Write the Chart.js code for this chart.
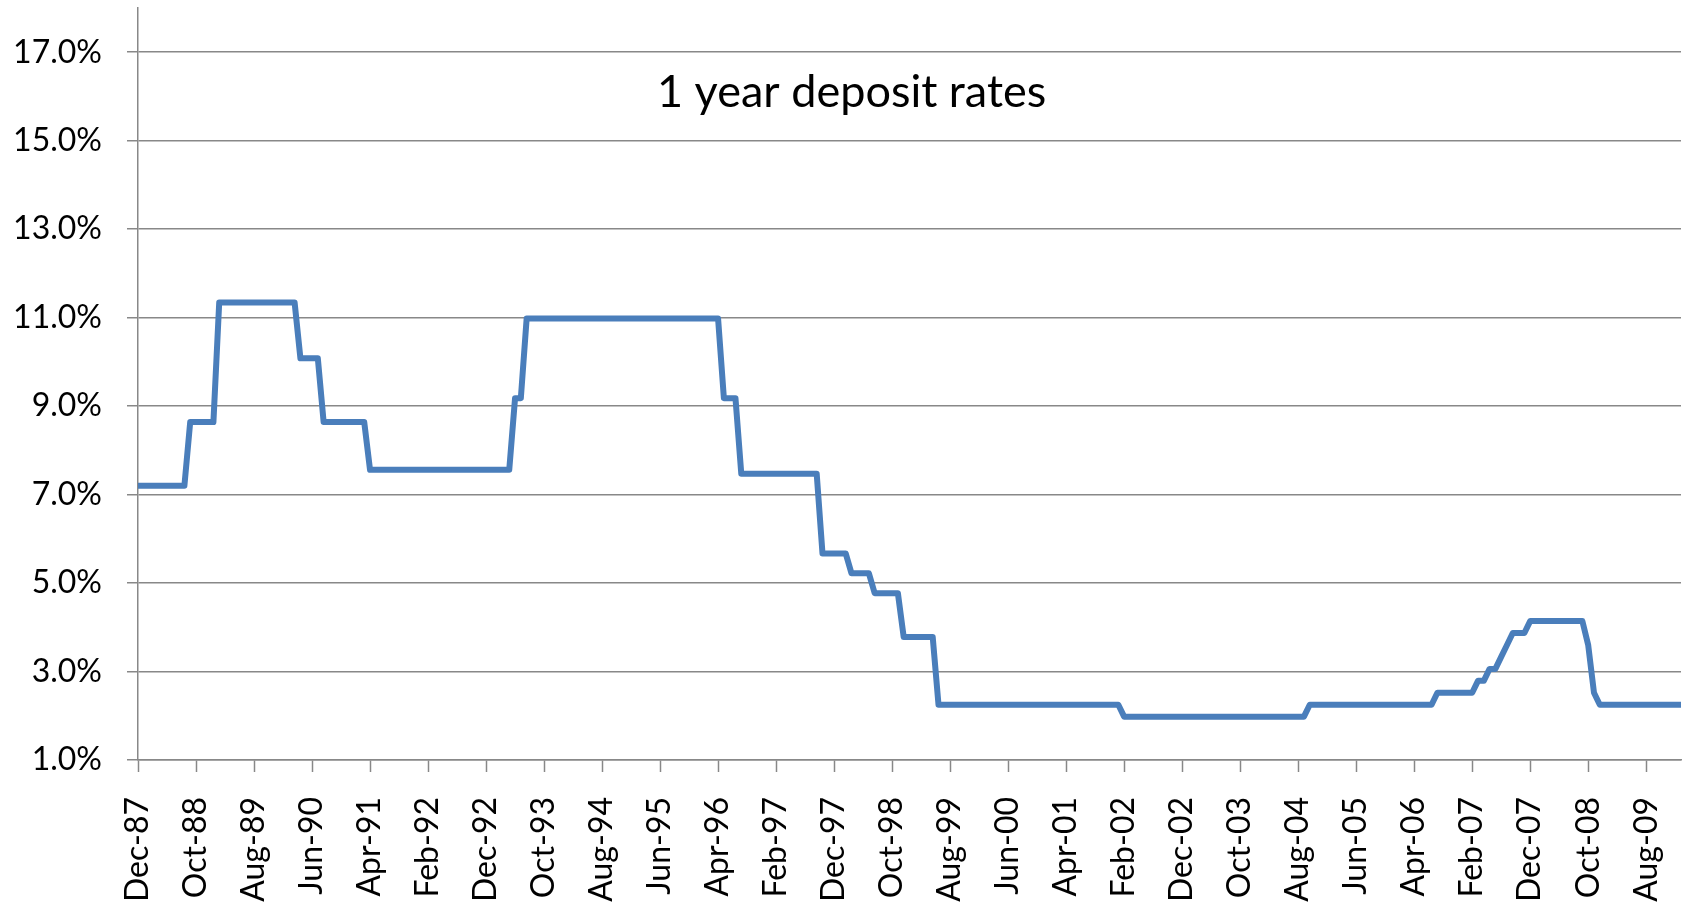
<!DOCTYPE html>
<html>
<head>
<meta charset="utf-8">
<script src="https://cdn.jsdelivr.net/npm/chart.js@4.4.1/dist/chart.umd.min.js"></script>
<style>
  html, body { margin: 0; padding: 0; background: #fff; }
  #wrap { width: 1689px; height: 904px; position: relative; }
</style>
</head>
<body>
<div id="wrap"><canvas id="rateChart"></canvas></div>
<script>
// monthly, Dec-87 .. Feb-10
const startYear = 1987;
const startMonth = 11; // Dec
const monthNames = ['Jan','Feb','Mar','Apr','May','Jun','Jul','Aug','Sep','Oct','Nov','Dec'];

// 1 year deposit rate, % (one row per calendar year)
const rates = [
  7.20, // Dec-87
  7.20, 7.20, 7.20, 7.20, 7.20, 7.20, 7.20, 7.20, 8.64, 8.64, 8.64, 8.64,             // 1988
  8.64, 11.34, 11.34, 11.34, 11.34, 11.34, 11.34, 11.34, 11.34, 11.34, 11.34, 11.34,  // 1989
  11.34, 11.34, 11.34, 10.08, 10.08, 10.08, 10.08, 8.64, 8.64, 8.64, 8.64, 8.64,      // 1990
  8.64, 8.64, 8.64, 7.56, 7.56, 7.56, 7.56, 7.56, 7.56, 7.56, 7.56, 7.56,             // 1991
  7.56, 7.56, 7.56, 7.56, 7.56, 7.56, 7.56, 7.56, 7.56, 7.56, 7.56, 7.56,             // 1992
  7.56, 7.56, 7.56, 7.56, 9.18, 9.18, 10.98, 10.98, 10.98, 10.98, 10.98, 10.98,       // 1993
  10.98, 10.98, 10.98, 10.98, 10.98, 10.98, 10.98, 10.98, 10.98, 10.98, 10.98, 10.98, // 1994
  10.98, 10.98, 10.98, 10.98, 10.98, 10.98, 10.98, 10.98, 10.98, 10.98, 10.98, 10.98, // 1995
  10.98, 10.98, 10.98, 10.98, 9.18, 9.18, 9.18, 7.47, 7.47, 7.47, 7.47, 7.47,         // 1996
  7.47, 7.47, 7.47, 7.47, 7.47, 7.47, 7.47, 7.47, 7.47, 5.67, 5.67, 5.67,             // 1997
  5.67, 5.67, 5.22, 5.22, 5.22, 5.22, 4.77, 4.77, 4.77, 4.77, 4.77, 3.78,             // 1998
  3.78, 3.78, 3.78, 3.78, 3.78, 2.25, 2.25, 2.25, 2.25, 2.25, 2.25, 2.25,             // 1999
  2.25, 2.25, 2.25, 2.25, 2.25, 2.25, 2.25, 2.25, 2.25, 2.25, 2.25, 2.25,             // 2000
  2.25, 2.25, 2.25, 2.25, 2.25, 2.25, 2.25, 2.25, 2.25, 2.25, 2.25, 2.25,             // 2001
  2.25, 1.98, 1.98, 1.98, 1.98, 1.98, 1.98, 1.98, 1.98, 1.98, 1.98, 1.98,             // 2002
  1.98, 1.98, 1.98, 1.98, 1.98, 1.98, 1.98, 1.98, 1.98, 1.98, 1.98, 1.98,             // 2003
  1.98, 1.98, 1.98, 1.98, 1.98, 1.98, 1.98, 1.98, 1.98, 2.25, 2.25, 2.25,             // 2004
  2.25, 2.25, 2.25, 2.25, 2.25, 2.25, 2.25, 2.25, 2.25, 2.25, 2.25, 2.25,             // 2005
  2.25, 2.25, 2.25, 2.25, 2.25, 2.25, 2.25, 2.52, 2.52, 2.52, 2.52, 2.52,             // 2006
  2.52, 2.52, 2.79, 2.79, 3.06, 3.06, 3.33, 3.60, 3.87, 3.87, 3.87, 4.14,             // 2007
  4.14, 4.14, 4.14, 4.14, 4.14, 4.14, 4.14, 4.14, 4.14, 3.60, 2.52, 2.25,             // 2008
  2.25, 2.25, 2.25, 2.25, 2.25, 2.25, 2.25, 2.25, 2.25, 2.25, 2.25, 2.25,             // 2009
  2.25, 2.25                                                                          // 2010
];

const yTicks = [1, 3, 5, 7, 9, 11, 13, 15, 17];
const labelEvery = 10;
const chartTitle = '1 year deposit rates';

// month labels like "Dec-87"
const labels = rates.map((v, i) => {
  const m = (startMonth + i) % 12;
  const y = startYear + Math.floor((startMonth + i) / 12);
  return monthNames[m] + '-' + String(y).slice(2);
});

const gridGray = '#888888';
const font = { family: 'Lato', size: 32 };

const titleInside = {
  id: 'titleInside',
  afterDraw(chart) {
    const c = chart.ctx;
    c.save();
    c.font = '45px Lato';
    c.fillStyle = '#000';
    c.textAlign = 'left';
    c.textBaseline = 'alphabetic';
    c.fillText(chartTitle, chart.chartArea.left + 519, 107);
    c.restore();
  }
};

new Chart(document.getElementById('rateChart'), {
  type: 'line',
  data: {
    labels: labels,
    datasets: [{
      data: rates,
      borderColor: '#4A7EBB',
      borderWidth: 6,
      pointRadius: 0,
      tension: 0,
      borderJoinStyle: 'round',
      fill: false
    }]
  },
  options: {
    responsive: true,
    maintainAspectRatio: false,
    devicePixelRatio: 1,
    animation: false,
    layout: { padding: { left: 0, right: 8, top: 8, bottom: 0 } },
    plugins: {
      legend: { display: false },
      tooltip: { enabled: false }
    },
    scales: {
      x: {
        type: 'category',
        offset: false,
        afterBuildTicks: s => { s.ticks = s.ticks.filter((t, i) => i % labelEvery === 0); },
        afterFit: s => { s.height = 144; s.paddingLeft = 0; s.paddingRight = 0; },
        grid: { drawOnChartArea: false, drawTicks: true, tickLength: 12, tickColor: gridGray, tickWidth: 1.5 },
        border: { color: gridGray, width: 1.5 },
        ticks: {
          autoSkip: false,
          maxRotation: 90,
          minRotation: 90,
          padding: 25,
          color: '#000',
          font: font
        }
      },
      y: {
        min: 1,
        max: 18,
        afterBuildTicks: s => { s.ticks = yTicks.map(v => ({ value: v })); },
        afterFit: s => { s.width = 138; s.paddingTop = 0; s.paddingBottom = 0; },
        grid: { color: gridGray, lineWidth: 1.5, tickLength: 11 },
        border: { color: gridGray, width: 1.5 },
        ticks: {
          padding: 25,
          color: '#000',
          font: font,
          callback: v => v.toFixed(1) + '%'
        }
      }
    }
  },
  plugins: [titleInside]
});
</script>
</body>
</html>
